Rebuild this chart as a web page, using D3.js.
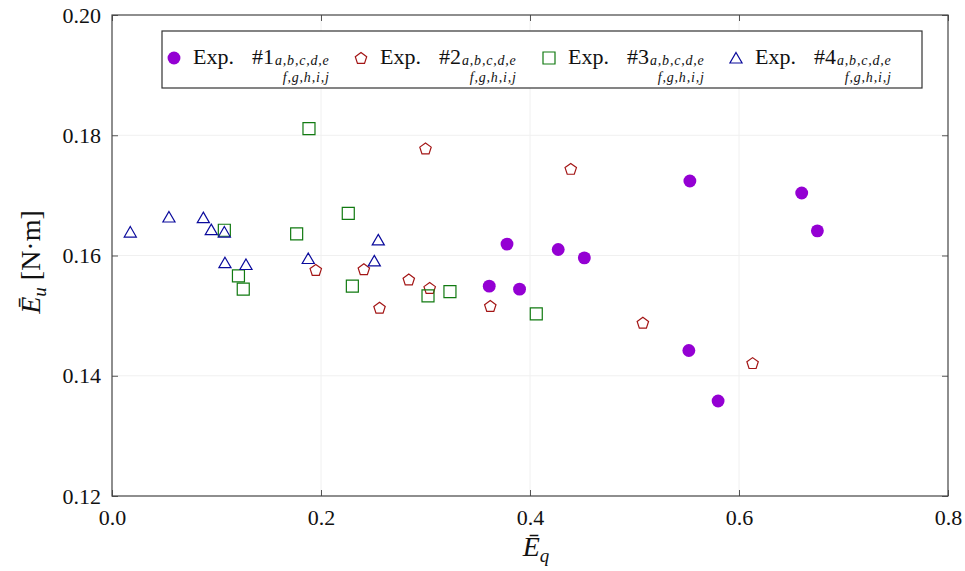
<!DOCTYPE html>
<html>
<head>
<meta charset="utf-8">
<script src="https://cdn.jsdelivr.net/npm/d3@7"></script>
<style>
body { margin: 0; background: #fff; }
text { font-family: "Liberation Serif", "DejaVu Serif", serif; fill: #111; }
</style>
</head>
<body>
<svg width="965" height="571"></svg>
<script>
// values
var exp1X = [0.378, 0.427, 0.452, 0.361, 0.390, 0.553, 0.660, 0.675, 0.552, 0.580];
var exp1Y = [0.1619, 0.1610, 0.1596, 0.1549, 0.1544, 0.1724, 0.1704, 0.1641, 0.1442, 0.1358];
var exp2X = [0.195, 0.241, 0.256, 0.284, 0.300, 0.304, 0.362, 0.439, 0.508, 0.613];
var exp2Y = [0.1576, 0.1577, 0.1513, 0.1560, 0.1778, 0.1546, 0.1516, 0.1744, 0.1488, 0.1421];
var exp3X = [0.1075, 0.121, 0.1256, 0.1767, 0.1885, 0.2261, 0.230, 0.3024, 0.3234, 0.406];
var exp3Y = [0.1642, 0.1566, 0.1544, 0.1636, 0.1811, 0.1670, 0.1549, 0.1533, 0.1540, 0.1503];
var exp4X = [0.0175, 0.0545, 0.0874, 0.095, 0.1075, 0.1081, 0.1282, 0.1878, 0.251, 0.2548];
var exp4Y = [0.1639, 0.1664, 0.1663, 0.1643, 0.1639, 0.1588, 0.1585, 0.1595, 0.1591, 0.1626];
var xTicks = [0, 0.2, 0.4, 0.6, 0.8];
var yTicks = [0.12, 0.14, 0.16, 0.18, 0.20];
var names = ['#1', '#2', '#3', '#4'];

var series = [
    { name: names[0], xs: exp1X, ys: exp1Y, shape: d3.symbolCircle, size: 130, fill: '#9400d3', stroke: 'none' },
    { name: names[1], xs: exp2X, ys: exp2Y, shape: 'pentagon', r: 6, fill: 'none', stroke: '#a31515' },
    { name: names[2], xs: exp3X, ys: exp3Y, shape: d3.symbolSquare, size: 144, fill: 'none', stroke: '#117a11' },
    { name: names[3], xs: exp4X, ys: exp4Y, shape: 'triangle', r: 7, fill: 'none', stroke: '#0a0a9c' }
];

var svg = d3.select('svg');
var plot = { left: 112, right: 948, top: 15, bottom: 496 };
var serif = '"Liberation Serif", "DejaVu Serif", serif';

var x = d3.scaleLinear().domain([0, 0.8]).range([plot.left, plot.right]);
var y = d3.scaleLinear().domain([0.12, 0.20]).range([plot.bottom, plot.top]);

function markerPath (s) {
    if (s.shape === 'pentagon' || s.shape === 'triangle') {
        var n = s.shape === 'pentagon' ? 5 : 3;
        var pts = d3.range(n).map(function (i) {
            var a = -Math.PI / 2 + i * 2 * Math.PI / n;
            return [s.r * Math.cos(a), s.r * Math.sin(a) + (n === 3 ? 1.5 : 0.5)];
        });
        return 'M' + pts.join('L') + 'Z';
    }
    return d3.symbol().type(s.shape).size(s.size)();
}

// grid
var grid = svg.append('g').attr('stroke', '#f0f0f0').attr('stroke-width', 1);
grid.selectAll('.gx').data(xTicks.slice(1, -1)).enter().append('line')
    .attr('x1', function (d) { return x(d); }).attr('x2', function (d) { return x(d); })
    .attr('y1', plot.top).attr('y2', plot.bottom);
grid.selectAll('.gy').data(yTicks.slice(1, -1)).enter().append('line')
    .attr('y1', function (d) { return y(d); }).attr('y2', function (d) { return y(d); })
    .attr('x1', plot.left).attr('x2', plot.right);

// axes, ticks inward on all four sides
var bottomAxis = d3.axisBottom(x).tickValues(xTicks).tickFormat(d3.format('.1f')).tickSize(-6).tickPadding(13);
var topAxis = d3.axisTop(x).tickValues(xTicks).tickFormat('').tickSize(-6);
var leftAxis = d3.axisLeft(y).tickValues(yTicks).tickFormat(d3.format('.2f')).tickSize(-6).tickPadding(11);
var rightAxis = d3.axisRight(y).tickValues(yTicks).tickFormat('').tickSize(-6);

function styleAxis (g) {
    g.attr('font-family', null).attr('font-size', null);
    g.select('.domain').remove();
    g.selectAll('.tick line').attr('stroke', '#555');
    g.selectAll('.tick text').style('font-size', '22px').style('font-family', serif).attr('fill', '#111');
}
svg.append('g').attr('transform', 'translate(0,' + plot.bottom + ')').call(bottomAxis).call(styleAxis);
svg.append('g').attr('transform', 'translate(0,' + plot.top + ')').call(topAxis).call(styleAxis);
svg.append('g').attr('transform', 'translate(' + plot.left + ',0)').call(leftAxis).call(styleAxis);
svg.append('g').attr('transform', 'translate(' + plot.right + ',0)').call(rightAxis).call(styleAxis);

svg.append('rect')
    .attr('x', plot.left).attr('y', plot.top)
    .attr('width', plot.right - plot.left).attr('height', plot.bottom - plot.top)
    .attr('fill', 'none').attr('stroke', '#444').attr('stroke-width', 1.2);

// points
series.forEach(function (s) {
    svg.append('g').selectAll('path')
        .data(d3.zip(s.xs, s.ys))
        .enter().append('path')
        .attr('d', markerPath(s))
        .attr('transform', function (d) { return 'translate(' + x(d[0]) + ',' + y(d[1]) + ')'; })
        .attr('fill', s.fill)
        .attr('stroke', s.stroke)
        .attr('stroke-width', 1.2);
});

// legend
var legend = svg.append('g');
legend.append('rect')
    .attr('x', 162).attr('y', 31).attr('width', 760).attr('height', 57)
    .attr('fill', '#fff').attr('stroke', '#333').attr('stroke-width', 1.2);

var legendX = [174, 361, 549, 736];
series.forEach(function (s, i) {
    legend.append('path')
        .attr('d', markerPath(s))
        .attr('transform', 'translate(' + legendX[i] + ',58)')
        .attr('fill', s.fill).attr('stroke', s.stroke).attr('stroke-width', 1.2);
    var t = legend.append('text')
        .attr('y', 64)
        .style('font-size', '22px');
    t.append('tspan').attr('x', legendX[i] + 19).text('Exp.');
    var num = t.append('tspan').attr('x', legendX[i] + 78).text(s.name);
    var end = legendX[i] + 78 + num.node().getComputedTextLength() + 1;
    var sub = t.append('tspan').attr('font-style', 'italic').style('font-size', '14px').style('letter-spacing', '0.8px');
    var sub1 = sub.append('tspan').attr('x', end).attr('y', 65).text('a,b,c,d,e');
    var end2 = end + sub1.node().getComputedTextLength();
    sub.append('tspan').attr('x', end2).attr('y', 82)
        .attr('text-anchor', 'end')
        .text('f,g,h,i,j');
});

// axis labels
var xl = svg.append('text')
    .attr('x', 536).attr('y', 556)
    .attr('text-anchor', 'middle')
    .style('font-size', '28px');
xl.append('tspan').attr('font-style', 'italic').text('E\u0304');
xl.append('tspan').attr('font-style', 'italic').style('font-size', '19px').attr('dy', 6).text('q');

var yl = svg.append('text')
    .attr('transform', 'translate(40,262) rotate(-90)')
    .attr('text-anchor', 'middle')
    .style('font-size', '28px');
yl.append('tspan').attr('font-style', 'italic').text('E\u0304');
yl.append('tspan').attr('font-style', 'italic').style('font-size', '19px').attr('dy', 6).text('u');
yl.append('tspan').attr('dy', -6).text('\u00a0[N\u00b7m]');
</script>
</body>
</html>
